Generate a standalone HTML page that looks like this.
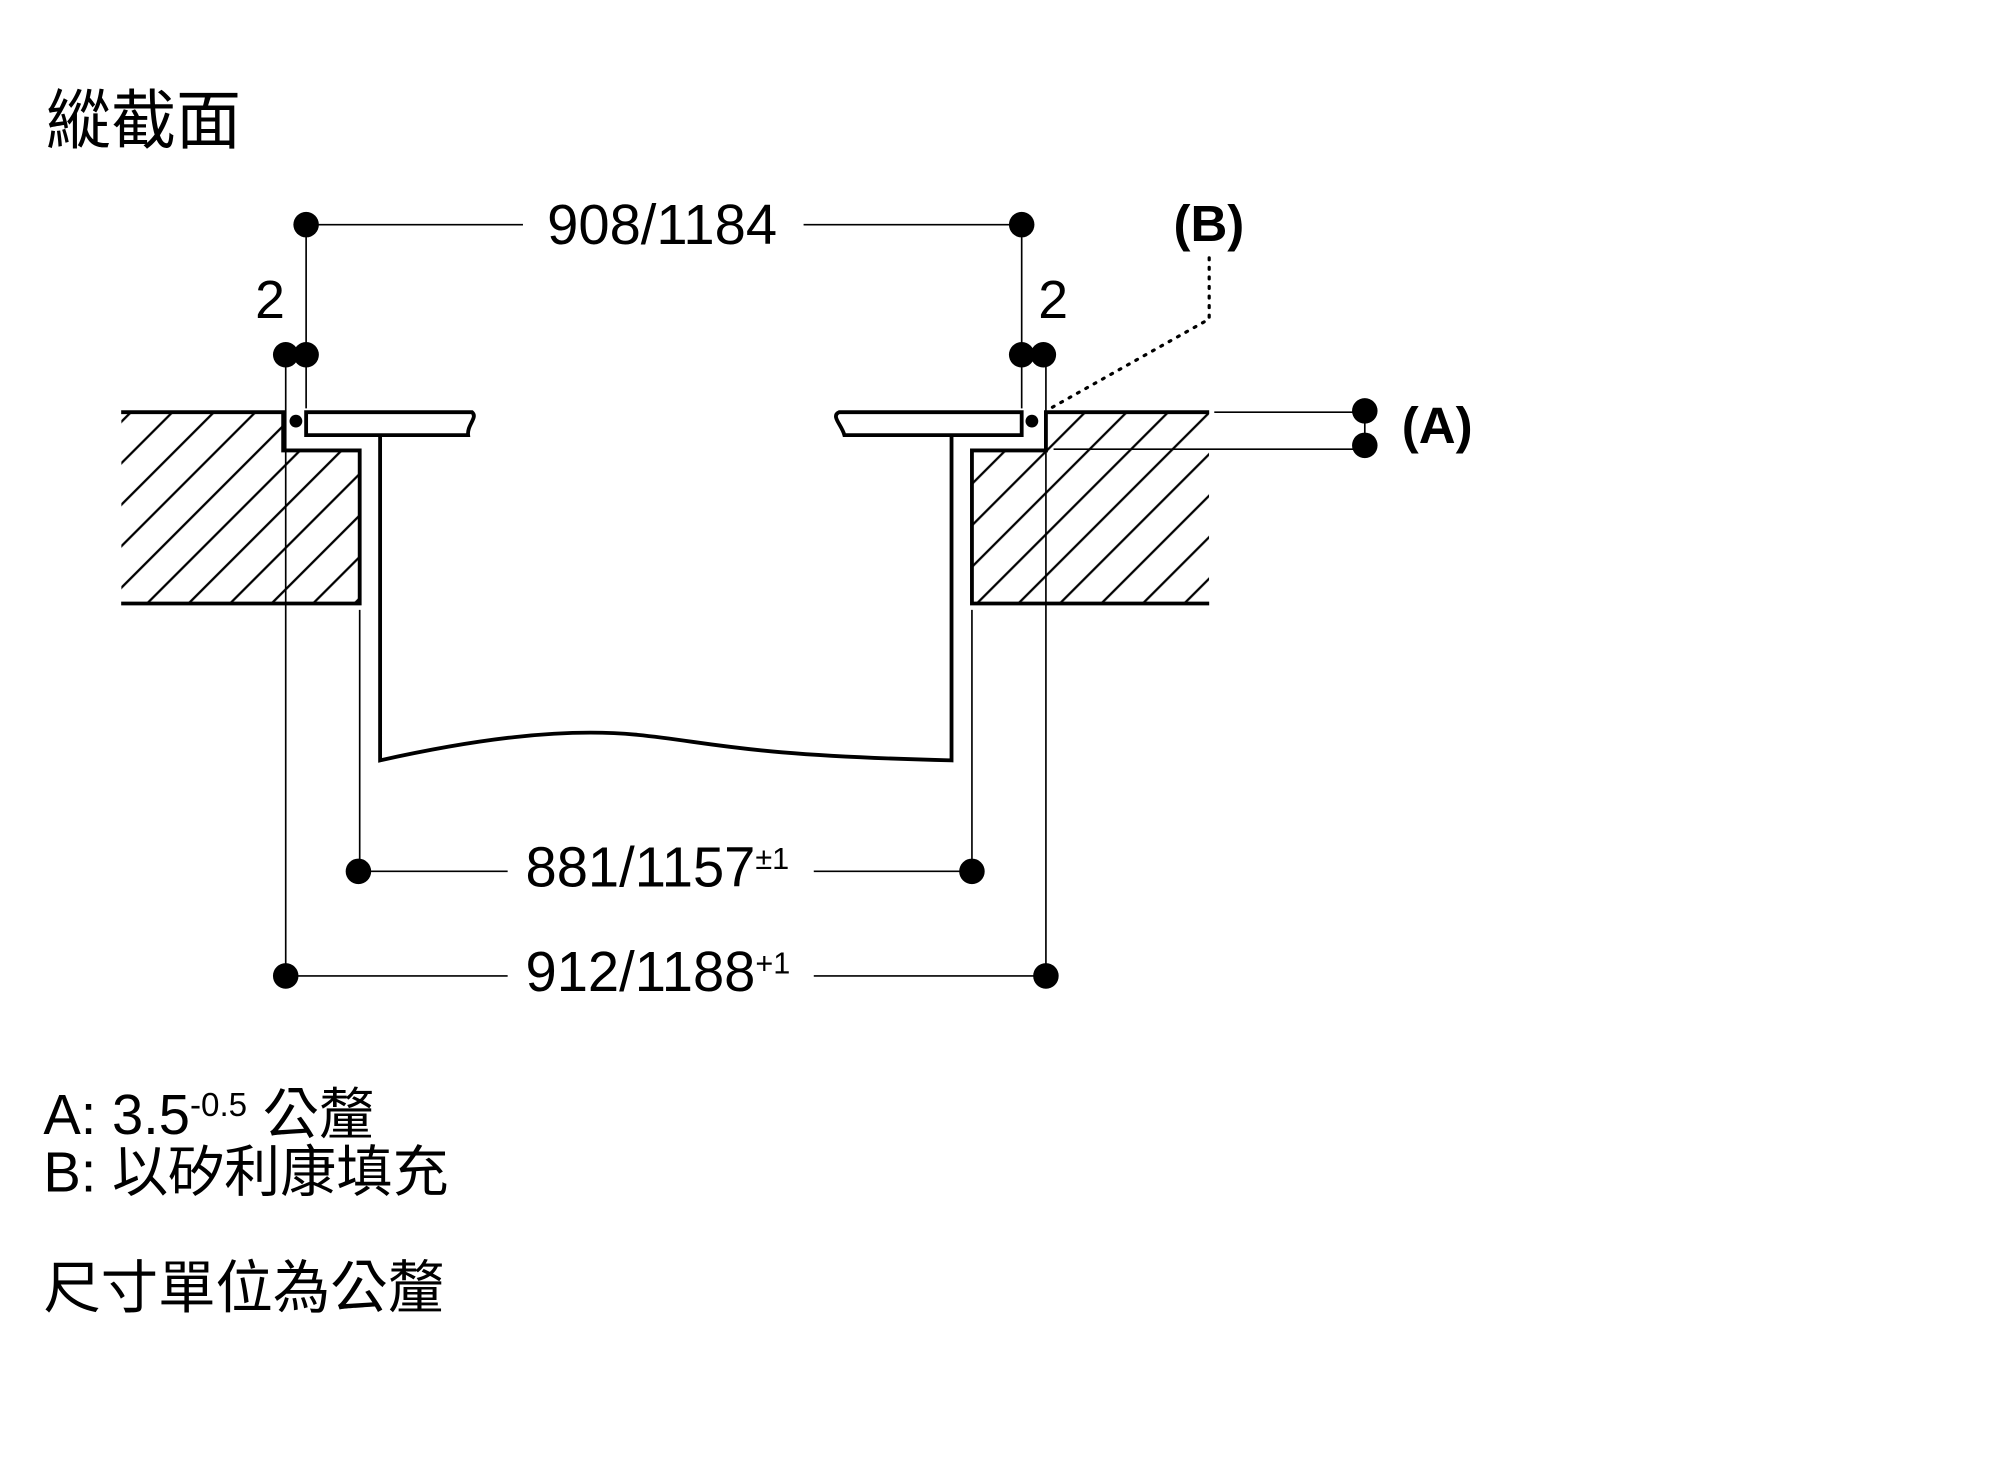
<!DOCTYPE html>
<html><head><meta charset="utf-8"><style>
html,body{margin:0;padding:0;background:#fff;}
svg{display:block;}
text{font-family:"Liberation Sans","Noto Sans CJK TC",sans-serif;fill:#000;}
</style></head><body>
<svg width="2000" height="1471" viewBox="0 0 1568 1153" xmlns="http://www.w3.org/2000/svg">
<defs>
<pattern id="h" patternUnits="userSpaceOnUse" width="23" height="23" patternTransform="rotate(45)">
<line x1="2" y1="0" x2="2" y2="23" stroke="#000" stroke-width="1.8"/>
</pattern>
<clipPath id="cl"><polygon points="95,323 222,323 222,353 282,353 282,473 95,473"/></clipPath>
<clipPath id="cr"><polygon points="820,323 948,323 948,473 762,473 762,353 820,353"/></clipPath>
</defs>
<rect width="1568" height="1153" fill="#fff"/>
<text x="36" y="112" font-size="51">縱截面</text>

<rect x="95" y="323" width="187" height="150" fill="url(#h)" clip-path="url(#cl)"/>
<rect x="762" y="323" width="186" height="150" fill="url(#h)" clip-path="url(#cr)"/>

<g fill="none" stroke="#000" stroke-width="3">
<polyline points="95,323 222,323 222,353 282,353 282,473 95,473"/>
<polyline points="948,323 820,323 820,353 762,353 762,473 948,473"/>
<path d="M240,323 L370,323 C375,327 366,333 367,341 L240,341 Z"/>
<path d="M801,323 L658,323 C651,326 660,333 662,341 L801,341 Z"/>
<path d="M298,341 L298,596 C370,580 440,570 500,576 C560,582 580,592 746,596 L746,341"/>
</g>

<g stroke="#000" stroke-width="1.3" fill="none">
<line x1="240" y1="176" x2="410" y2="176"/>
<line x1="630" y1="176" x2="801" y2="176"/>
<line x1="240" y1="176" x2="240" y2="320"/>
<line x1="801" y1="176" x2="801" y2="320"/>
<line x1="224" y1="278" x2="224" y2="765"/>
<line x1="820" y1="278" x2="820" y2="765"/>
<line x1="282" y1="478" x2="282" y2="683"/>
<line x1="762" y1="478" x2="762" y2="683"/>
<line x1="281" y1="683" x2="398" y2="683"/>
<line x1="638" y1="683" x2="762" y2="683"/>
<line x1="224" y1="765" x2="398" y2="765"/>
<line x1="638" y1="765" x2="820" y2="765"/>
<line x1="952" y1="323" x2="1070" y2="323"/>
<line x1="826" y1="352" x2="1070" y2="352"/>
<line x1="1070" y1="323" x2="1070" y2="350"/>
<polyline points="948,202 948,250 820,322" stroke-dasharray="1.5 6" stroke-width="2.5" stroke-linecap="round"/>
</g>

<g fill="#000">
<circle cx="240" cy="176" r="10"/><circle cx="801" cy="176" r="10"/>
<circle cx="224" cy="278" r="10"/><circle cx="240" cy="278" r="10"/>
<circle cx="801" cy="278" r="10"/><circle cx="818" cy="278" r="10"/>
<circle cx="232" cy="330" r="5"/><circle cx="809" cy="330" r="5"/>
<circle cx="281" cy="683" r="10"/><circle cx="762" cy="683" r="10"/>
<circle cx="224" cy="765" r="10"/><circle cx="820" cy="765" r="10"/>
<circle cx="1070" cy="322" r="10"/><circle cx="1070" cy="349" r="10"/>
</g>

<text x="429" y="191" font-size="44">908/1184</text>
<text x="200" y="249" font-size="42">2</text>
<text x="814" y="249" font-size="42">2</text>
<text x="920" y="189" font-size="40" font-weight="bold">(B)</text>
<text x="1099" y="347" font-size="40" font-weight="bold">(A)</text>
<text x="412" y="695" font-size="44">881/1157<tspan font-size="24" dy="-14">±1</tspan></text>
<text x="412" y="777" font-size="44">912/1188<tspan font-size="24" dy="-14">+1</tspan></text>

<text x="34" y="889" font-size="44">A: 3.5<tspan font-size="26" dy="-14">-0.5</tspan><tspan dy="14"> 公釐</tspan></text>
<text x="34" y="934" font-size="44">B: 以矽利康填充</text>
<text x="34" y="1025" font-size="45">尺寸單位為公釐</text>
</svg>
</body></html>
